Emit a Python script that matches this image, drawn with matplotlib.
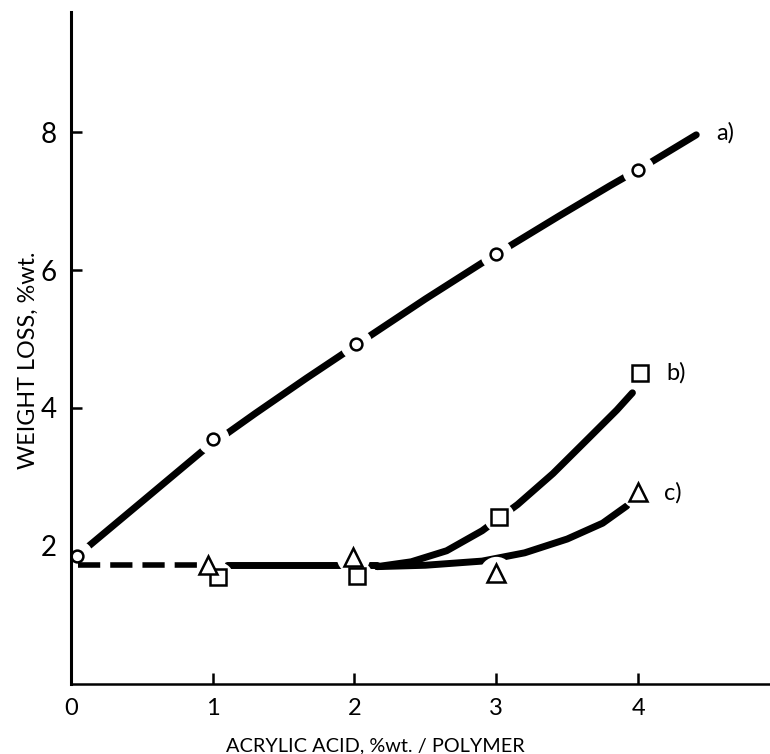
import numpy as np
import matplotlib.pyplot as plt

# measured points (acrylic acid %wt vs weight loss %wt)
a_x = [0.04, 1.0, 2.01, 3.0, 4.0]
a_y = [1.86, 3.55, 4.93, 6.23, 7.45]
b_x = [1.04, 2.02, 3.02, 4.01]
b_y = [1.55, 1.57, 2.42, 4.51]
c_x = [0.97, 1.99, 3.0, 4.0]
c_y = [1.72, 1.84, 1.61, 2.78]

# hand drawn curves
curve_a_x = [0.11, 0.5, 0.93, 1.3, 1.66, 2.09, 2.5, 2.92, 3.44, 3.8, 4.08, 4.41]
curve_a_y = [1.97, 2.64, 3.38, 3.92, 4.43, 5.02, 5.58, 6.13, 6.78, 7.22, 7.55, 7.96]
base_y = 1.72
dash_x = [0.05, 0.92]
flat_x = [1.1, 2.16]
curve_b_x = [2.16, 2.4, 2.65, 2.9, 3.15, 3.4, 3.65, 3.85, 3.96]
curve_b_y = [1.70, 1.77, 1.93, 2.22, 2.60, 3.05, 3.56, 3.97, 4.22]
curve_c_x = [2.16, 2.5, 2.9, 3.2, 3.5, 3.75, 3.92]
curve_c_y = [1.70, 1.72, 1.78, 1.90, 2.10, 2.33, 2.58]

xticks = [0, 1, 2, 3, 4]
yticks = [2, 4, 6, 8]

plt.rcParams['font.family'] = ['Lato', 'DejaVu Sans']

fig = plt.figure(figsize=(7.7, 7.54), dpi=100)
ax = fig.add_axes([0.092, 0.093, 0.908, 0.891])
ax.set_xlim(0, 4.93)
ax.set_ylim(0, 9.74)

lw = 5
ax.plot(curve_a_x, curve_a_y, color='k', lw=lw, solid_capstyle='round', solid_joinstyle='round', zorder=2)
ax.plot(dash_x, [base_y, base_y], color='k', lw=4, dashes=(4, 1.8), dash_capstyle='butt', zorder=3.5)
ax.plot(flat_x, [base_y, base_y], color='k', lw=lw, solid_capstyle='round', zorder=2)
ax.plot(curve_b_x, curve_b_y, color='k', lw=lw, solid_capstyle='round', solid_joinstyle='round', zorder=2)
ax.plot(curve_c_x, curve_c_y, color='k', lw=lw, solid_capstyle='round', solid_joinstyle='round', zorder=2)

# white disc behind each marker so the lines break there
marks = [(a_x, a_y, 'o', 8.5, 23), (b_x, b_y, 's', 11, 22), (c_x, c_y, '^', 13, 24)]
for xs, ys, m, ms, hs in marks:
    ax.plot(xs, ys, ls='none', marker='o', ms=hs, mfc='white', mew=0, zorder=3)
for xs, ys, m, ms, hs in marks:
    ax.plot(xs, ys, ls='none', marker=m, ms=ms, mfc='white', mec='k', mew=1.8, zorder=4)

ax.text(4.55, 7.99, 'a)', fontsize=17, va='center', ha='left')
ax.text(4.20, 4.51, 'b)', fontsize=17, va='center', ha='left')
ax.text(4.18, 2.77, 'c)', fontsize=17, va='center', ha='left')

for s in ['top', 'right']:
    ax.spines[s].set_visible(False)
ax.spines['left'].set_linewidth(2.2)
ax.spines['bottom'].set_linewidth(1.8)
ax.spines['left'].set_zorder(5)
ax.spines['bottom'].set_zorder(5)

ax.set_xticks(xticks)
ax.set_yticks(yticks)
ax.tick_params(axis='both', direction='in', width=1.8, length=8)
ax.tick_params(axis='x', labelsize=17, pad=10)
ax.tick_params(axis='y', labelsize=20, pad=10)
ax.xaxis.get_major_ticks()[0].tick1line.set_visible(False)

fig.text(0.487, 0.004, 'ACRYLIC ACID, %wt. / POLYMER', fontsize=14.3, ha='center', va='baseline')
fig.text(0.037, 0.5225, 'WEIGHT LOSS, %wt.', fontsize=16.8, ha='center', va='center', rotation=90)

fig.savefig('out.png', dpi=100)
